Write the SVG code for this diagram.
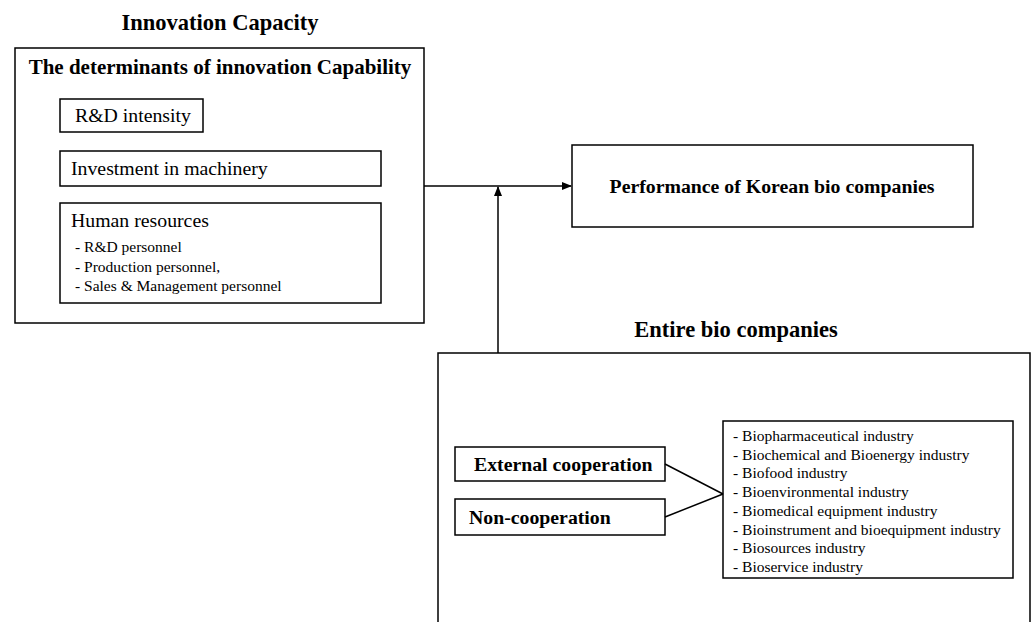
<svg xmlns="http://www.w3.org/2000/svg" width="1034" height="622" viewBox="0 0 1034 622">
<style>
rect{fill:#fff;stroke:#000;stroke-width:1.5}
text{font-family:"Liberation Serif","Times New Roman",serif;fill:#000}
.b{font-weight:bold}
.ln{stroke:#000;stroke-width:1.5;fill:none}
</style>
<defs>
<marker id="ah" markerWidth="10" markerHeight="8" refX="9" refY="4" orient="auto" markerUnits="userSpaceOnUse">
<path d="M0,0 L10,4 L0,8 Z" fill="#000"/>
</marker>
</defs>
<rect x="0" y="0" width="1034" height="622" style="stroke:none"/>
<text x="220" y="30" text-anchor="middle" class="b" font-size="22.5">Innovation Capacity</text>
<g id="innovation">
<rect x="15" y="48" width="409" height="275"/>
<text x="220" y="74" text-anchor="middle" class="b" font-size="21">The determinants of innovation Capability</text>
</g>
<g id="rd">
<rect x="60" y="99" width="143" height="33"/>
<text x="75" y="122" font-size="19.8">R&amp;D intensity</text>
</g>
<g id="invest">
<rect x="60" y="151" width="321" height="35"/>
<text x="71" y="175" font-size="19.8">Investment in machinery</text>
</g>
<g id="human">
<rect x="60" y="203" width="321" height="100"/>
<text x="71" y="227" font-size="19.8">Human resources</text>
<text x="75" y="252" font-size="15.5">- R&amp;D personnel</text>
<text x="75" y="272" font-size="15.5">- Production personnel,</text>
<text x="75" y="291" font-size="15.5">- Sales &amp; Management personnel</text>
</g>
<g id="performance">
<rect x="572" y="145" width="401" height="82"/>
<text x="772" y="193" text-anchor="middle" class="b" font-size="19.8">Performance of Korean bio companies</text>
</g>
<text x="736" y="337" text-anchor="middle" class="b" font-size="22.5">Entire bio companies</text>
<g id="entire">
<rect x="438" y="353" width="592" height="280"/>
</g>
<g id="external">
<rect x="455" y="447" width="210" height="34"/>
<text x="474" y="471" class="b" font-size="19.8">External cooperation</text>
</g>
<g id="noncoop">
<rect x="455" y="499" width="210" height="36"/>
<text x="469" y="524" class="b" font-size="19.8">Non-cooperation</text>
</g>
<g id="industries">
<rect x="723" y="421" width="290" height="157"/>
<g font-size="15.5">
<text x="733" y="441">- Biopharmaceutical industry</text>
<text x="733" y="460">- Biochemical and Bioenergy industry</text>
<text x="733" y="478">- Biofood industry</text>
<text x="733" y="497">- Bioenvironmental industry</text>
<text x="733" y="516">- Biomedical equipment industry</text>
<text x="733" y="535">- Bioinstrument and bioequipment industry</text>
<text x="733" y="553">- Biosources industry</text>
<text x="733" y="572">- Bioservice industry</text>
</g>
</g>
<g id="connectors">
<line class="ln" x1="424" y1="186" x2="571" y2="186" marker-end="url(#ah)"/>
<line class="ln" x1="498" y1="353" x2="498" y2="187" marker-end="url(#ah)"/>
<line class="ln" x1="665" y1="464" x2="723" y2="494"/>
<line class="ln" x1="665" y1="517" x2="723" y2="494"/>
</g>
</svg>
